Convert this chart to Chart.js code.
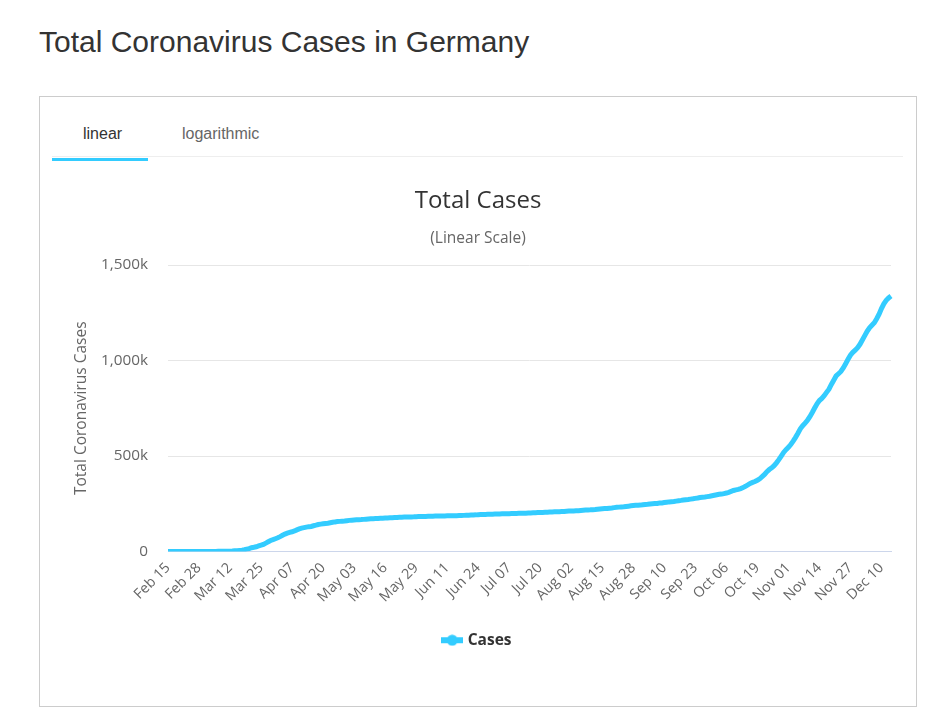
<!DOCTYPE html>
<html>
<head>
<meta charset="utf-8">
<script src="https://cdn.jsdelivr.net/npm/chart.js@4.4.0/dist/chart.umd.min.js"></script>
<style>
  body { margin: 0; background: #fff; width: 952px; height: 720px; position: relative; overflow: hidden; }
  h1 { position: absolute; left: 39px; top: 25px; margin: 0; font: 30px "Liberation Sans", Arial, sans-serif; color: #333; font-weight: normal; }
  .box { position: absolute; left: 39px; top: 96px; width: 876px; height: 609px; border: 1px solid #ccc; }
  .tabline { position: absolute; left: 12px; top: 59px; width: 851px; height: 1px; background: #eee; }
  .tab { position: absolute; top: 28px; font: 16px "Liberation Sans", Arial, sans-serif; }
  .tab.on { left: 43px; color: #333; }
  .tab.off { left: 142px; color: #666; }
  .under { position: absolute; left: 12px; top: 61px; width: 96px; height: 3px; background: #33ccff; }
  #wrap { position: absolute; left: 0; top: 73px; width: 876px; height: 536px; }
</style>
</head>
<body>
<h1>Total Coronavirus Cases in Germany</h1>
<div class="box">
  <div class="tab on">linear</div>
  <div class="tab off">logarithmic</div>
  <div class="tabline"></div>
  <div class="under"></div>
  <div id="wrap"><canvas id="casesChart" width="876" height="536"></canvas></div>
</div>
<script>
// daily total cases, Feb 15 .. Dec 14
const feb = [16, 16, 16, 16, 16, 16, 16, 16, 16, 16, 16, 17, 27, 46, 48];
const mar = [79, 130, 159, 196, 262, 482, 670, 799, 1040, 1176, 1457, 1908, 2078, 3675, 4585, 5795,
  7272, 9257, 12327, 15320, 19848, 22213, 24873, 29056, 32986, 37323, 43938, 50871, 57695, 62095, 66885];
const apr = [71808, 77872, 84794, 91159, 96092, 100123, 103374, 107663, 113296, 118181, 122171, 124908,
  127854, 130072, 131359, 134753, 137698, 141397, 143342, 145184, 147065, 148291, 150648, 153129,
  154999, 156513, 157770, 158758, 159912, 161539];
const may = [163009, 164077, 164967, 165664, 166152, 167007, 168162, 169430, 170588, 171324, 171879,
  172576, 173171, 174098, 174478, 175233, 175752, 176369, 176551, 177778, 178473, 179021, 179710,
  179986, 180328, 180600, 181200, 181524, 182196, 182922, 183189];
const jun = [183410, 183594, 184121, 184472, 184924, 185450, 185750, 186022, 186269, 186506, 186839,
  187226, 187423, 187671, 187764, 188252, 188604, 189135, 189822, 190359, 190862, 191449, 191768,
  192480, 193243, 193761, 194259, 194725, 194864, 195418];
const jul = [195893, 196324, 196780, 197198, 197523, 197783, 198178, 198556, 198963, 199375, 199726,
  200180, 200456, 200890, 201450, 202045, 202572, 203325, 203717, 203986, 204536, 205020, 205623,
  206277, 207112, 207510, 207833, 208546, 209200, 209893, 210670];
const aug = [211527, 211897, 212126, 212878, 213732, 214785, 215766, 216903, 217585, 218043, 218985,
  220051, 221418, 222828, 224014, 224981, 225445, 226914, 228120, 229706, 231292, 232379, 233575,
  234494, 235948, 237445, 239010, 240571, 241771, 242381, 242835];
const sep = [244802, 246166, 247411, 248997, 250375, 251058, 251728, 253474, 254474, 256433, 258149,
  259735, 260817, 261737, 263663, 265857, 267773, 270070, 271415, 272337, 274158, 275927, 278070,
  280223, 282730, 284140, 285332, 287421, 289219, 291722];
const oct = [294395, 296958, 299237, 300619, 303258, 306086, 310144, 314660, 319381, 322864, 325331,
  329453, 334585, 341223, 348557, 356387, 361974, 366299, 373167, 380762, 392049, 403291, 418005,
  429181, 437866, 449275, 464239, 481013, 499694, 518753, 532930];
const nov = [545027, 560379, 577593, 597583, 619089, 642488, 658505, 671868, 687200, 705687, 727553,
  751095, 773556, 790503, 801327, 815746, 833307, 850180, 874483, 897009, 919185, 930814, 942684,
  961320, 983294, 1006394, 1028089, 1042700, 1053869, 1067473];
const dec = [1084743, 1106789, 1129977, 1153350, 1171323, 1184355, 1197709, 1218524, 1242203,
  1272078, 1296817, 1314960, 1327699, 1337078];

const totalCases = [].concat(feb, mar, apr, may, jun, jul, aug, sep, oct, nov, dec);

const tickLabels = ["Feb 15", "Feb 28", "Mar 12", "Mar 25", "Apr 07", "Apr 20", "May 03", "May 16",
  "May 29", "Jun 11", "Jun 24", "Jul 07", "Jul 20", "Aug 02", "Aug 15", "Aug 28", "Sep 10", "Sep 23",
  "Oct 06", "Oct 19", "Nov 01", "Nov 14", "Nov 27", "Dec 10"];
const yTicks = [0, 500000, 1000000, 1500000];

// one label per day
const monthNames = ["Jan", "Feb", "Mar", "Apr", "May", "Jun", "Jul", "Aug", "Sep", "Oct", "Nov", "Dec"];
const dayLabels = [];
for (let i = 0; i < totalCases.length; i++) {
  const d = new Date(Date.UTC(2020, 1, 15 + i));
  dayLabels.push(monthNames[d.getUTCMonth()] + " " + String(d.getUTCDate()).padStart(2, "0"));
}

const font = "'Open Sans', 'DejaVu Sans', sans-serif";
const cyan = "#33ccff";

// legend symbol: thick line with a round marker
const legendIcon = document.createElement("canvas");
legendIcon.width = 22;
legendIcon.height = 12;
const ic = legendIcon.getContext("2d");
ic.fillStyle = cyan;
ic.fillRect(0, 3, 22, 6);
ic.beginPath();
ic.arc(11, 6, 5.5, 0, Math.PI * 2);
ic.fill();

new Chart(document.getElementById("casesChart"), {
  type: "line",
  data: {
    labels: dayLabels,
    datasets: [{
      label: "Cases",
      data: totalCases,
      borderColor: cyan,
      backgroundColor: cyan,
      borderWidth: 5,
      pointRadius: 0,
      pointStyle: legendIcon,
      tension: 0,
      fill: false
    }]
  },
  options: {
    responsive: false,
    animation: false,
    layout: { padding: { left: 25, right: 25, top: 0, bottom: 48 } },
    plugins: {
      title: {
        display: true,
        text: "Total Cases",
        color: "#333",
        font: { family: font, size: 24, weight: "normal" },
        padding: { top: 17, bottom: 8 }
      },
      subtitle: {
        display: true,
        text: "(Linear Scale)",
        color: "#666",
        font: { family: font, size: 15.5 },
        padding: { top: 5, bottom: 17.6 }
      },
      legend: {
        position: "bottom",
        labels: {
          color: "#333",
          font: { family: font, size: 15.5, weight: "bold" },
          usePointStyle: true,
          boxWidth: 22,
          boxHeight: 12
        }
      },
      tooltip: { enabled: false }
    },
    scales: {
      x: {
        grid: { display: false, drawTicks: false },
        border: { color: "#ccd6eb" },
        ticks: {
          autoSkip: false,
          minRotation: 45,
          maxRotation: 45,
          padding: 8,
          color: "#666",
          font: { family: font, size: 14.3 },
          callback: function(value, index) {
            const lab = this.getLabelForValue(value);
            return tickLabels.includes(lab) ? lab : null;
          }
        },
        afterFit: function(scale) { scale.height = 71; }
      },
      y: {
        min: 0,
        max: 1500000,
        afterBuildTicks: function(scale) { scale.ticks = yTicks.map(v => ({ value: v })); },
        grid: { color: "#e6e6e6", drawTicks: false },
        border: { display: false },
        ticks: {
          padding: 20,
          color: "#666",
          font: { family: font, size: 15.3 },
          callback: v => v === 0 ? "0" : (v / 1000).toLocaleString("en-US") + "k"
        },
        title: {
          display: true,
          text: "Total Coronavirus Cases",
          color: "#666",
          font: { family: font, size: 15.5 },
          padding: { top: 7, bottom: 0 }
        },
        afterFit: function(scale) { scale.width = 103; }
      }
    }
  }
});
</script>
</body>
</html>
